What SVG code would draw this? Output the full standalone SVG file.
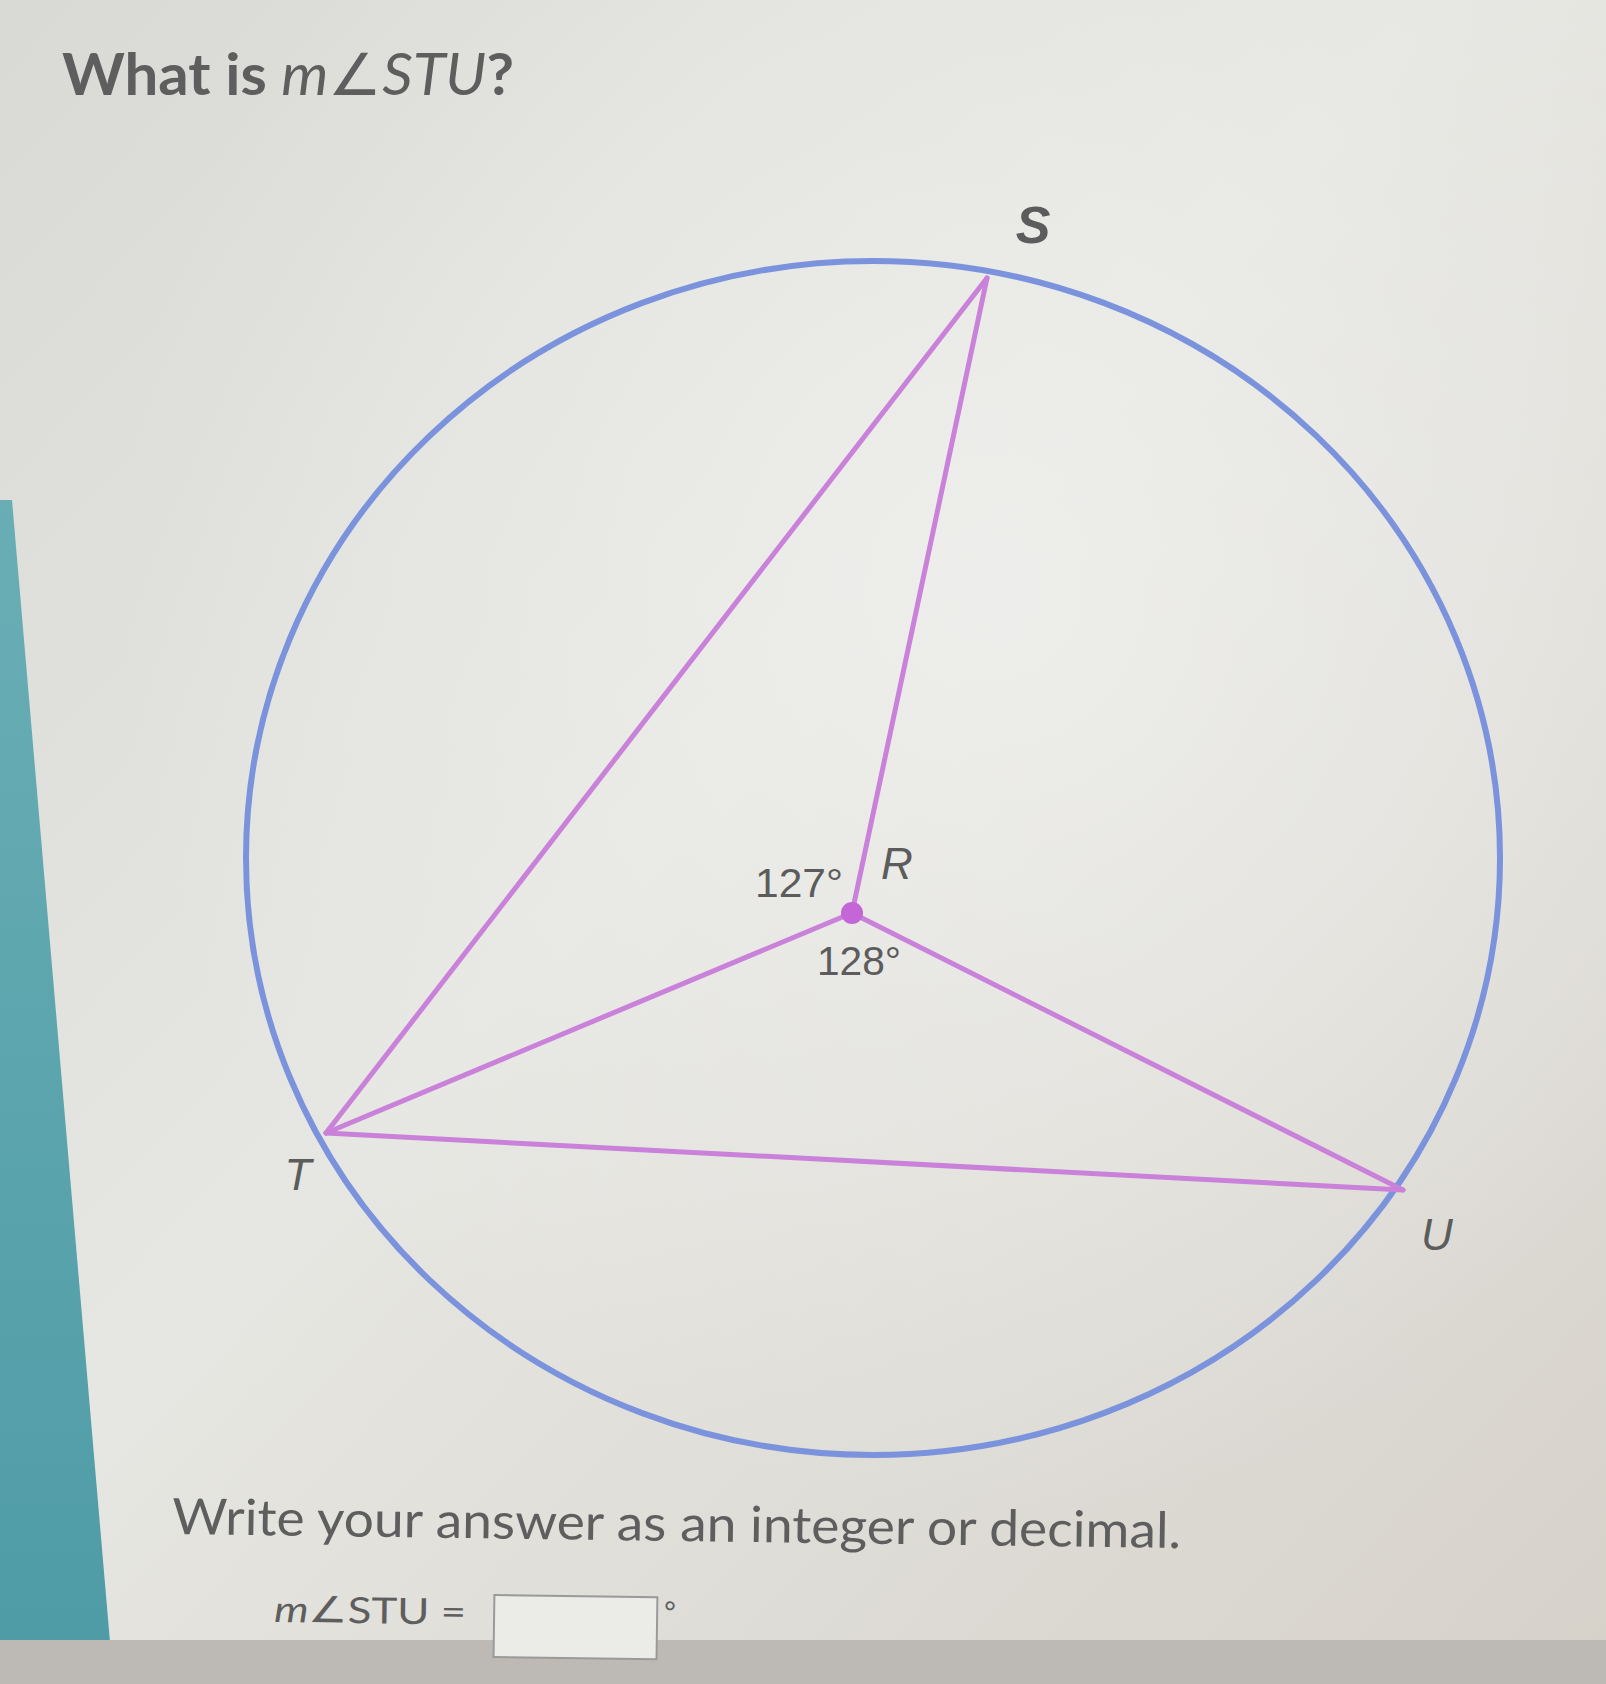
<svg xmlns="http://www.w3.org/2000/svg" width="1606" height="1684" viewBox="0 0 1606 1684">
  <defs>
    <linearGradient id="bg" x1="0" y1="0" x2="1" y2="1">
      <stop offset="0" stop-color="#d9dad5"/>
      <stop offset="0.45" stop-color="#e6e6e2"/>
      <stop offset="1" stop-color="#d6d2ca"/>
    </linearGradient>
    <radialGradient id="glow" cx="0.62" cy="0.35" r="0.55">
      <stop offset="0" stop-color="#eeeeec" stop-opacity="0.9"/>
      <stop offset="1" stop-color="#eeeeec" stop-opacity="0"/>
    </radialGradient>
    <linearGradient id="teal" x1="0" y1="0" x2="0" y2="1">
      <stop offset="0" stop-color="#6aaeb5"/>
      <stop offset="1" stop-color="#4f9ca6"/>
    </linearGradient>
    <style>
      .lbl { font-family: "Liberation Sans", Arial, sans-serif; fill: #5c5c5c; }
      .pt { font-style: italic; font-size: 44px; }
      .big { font-size: 52px; font-weight: bold; }
      .ang { font-size: 40px; }
      .seg { stroke: #c981da; stroke-width: 5; stroke-linecap: round; fill: none; }
      .txt { font-family: Lato, "Liberation Sans", sans-serif; fill: #5e5e5e; }
    </style>
  </defs>

  <rect x="0" y="0" width="1606" height="1684" fill="url(#bg)"/>
  <rect x="0" y="0" width="1606" height="1684" fill="url(#glow)"/>
  <polygon points="0,500 12,500 110,1642 0,1642" fill="url(#teal)"/>
  <rect x="0" y="1640" width="1606" height="44" fill="#bdbab6"/>

  <text class="txt" x="62" y="95" font-size="58" font-weight="bold" fill="#6a6a6a" textLength="452" lengthAdjust="spacingAndGlyphs">What is <tspan font-style="italic" font-weight="normal">m</tspan><tspan font-weight="normal">∠</tspan><tspan font-style="italic" font-weight="normal">STU</tspan>?</text>

  <g id="circle">
    <ellipse cx="873" cy="858" rx="627" ry="597" fill="none" stroke="#7b93dc" stroke-width="6"/>
  </g>

  <g id="connectors">
    <line class="seg" x1="987" y1="278" x2="326" y2="1133"/>
    <line class="seg" x1="987" y1="278" x2="852" y2="913"/>
    <line class="seg" x1="326" y1="1133" x2="852" y2="913"/>
    <line class="seg" x1="852" y1="913" x2="1403" y2="1190"/>
    <line class="seg" x1="326" y1="1133" x2="1403" y2="1190"/>
  </g>

  <g id="S"><text class="lbl pt big" x="1033" y="243" text-anchor="middle">S</text></g>
  <g id="T"><text class="lbl pt" x="298" y="1190" text-anchor="middle">T</text></g>
  <g id="U"><text class="lbl pt" x="1437" y="1250" text-anchor="middle">U</text></g>
  <g id="R">
    <circle cx="852" cy="913" r="11" fill="#c466d8"/>
    <text class="lbl pt" x="897" y="879" text-anchor="middle">R</text>
    <text class="lbl ang" x="755" y="897" textLength="88" lengthAdjust="spacingAndGlyphs">127°</text>
    <text class="lbl ang" x="817" y="975" textLength="84" lengthAdjust="spacingAndGlyphs">128°</text>
  </g>

  <g transform="rotate(0.8 172 1534)">
    <text class="txt" x="172" y="1534" font-size="50" textLength="1009" lengthAdjust="spacingAndGlyphs">Write your answer as an integer or decimal.</text>
  </g>
  <g id="answer" transform="rotate(0.8 274 1622)">
    <text class="txt" x="274" y="1622" font-size="36" textLength="192" lengthAdjust="spacingAndGlyphs"><tspan font-style="italic">m</tspan>∠STU =</text>
    <rect x="494" y="1592" width="163" height="62" fill="#ebebe8" stroke="#9a9a9a" stroke-width="2"/>
    <text class="txt" x="664" y="1616" font-size="28">°</text>
  </g>
</svg>
